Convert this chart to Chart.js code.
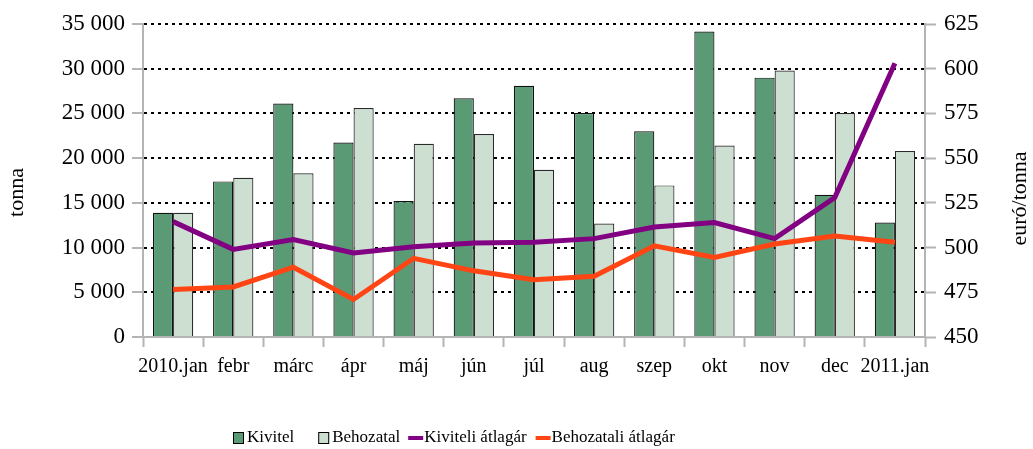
<!DOCTYPE html>
<html>
<head>
<meta charset="utf-8">
<script src="https://cdn.jsdelivr.net/npm/chart.js@4.4.1/dist/chart.umd.min.js"></script>
<style>
html,body{margin:0;padding:0;background:#fff;}
#wrap{width:1033px;height:449px;position:relative;}
</style>
</head>
<body>
<div id="wrap"><canvas id="c" width="1033" height="449"></canvas></div>
<script>
const categories = ['2010.jan','febr','márc','ápr','máj','jún','júl','aug','szep','okt','nov','dec','2011.jan'];
const kivitel = [13900,17400,26100,21750,15200,26700,28100,25050,23000,34150,29000,15900,12800];
const behozatal = [13900,17800,18300,25600,21600,22700,18700,12700,16950,21400,29800,25050,20800];
const kiviteliAr = [514.5,499,504.5,497,500.5,502.5,503,505,511.5,514,505,528,603];
const behozataliAr = [476.5,478,489,471,494,487,482,484,501,494.5,502,506.5,503];
const leftTicks = [0,5000,10000,15000,20000,25000,30000,35000];
const rightTicks = [450,475,500,525,550,575,600,625];
const leftTitle = 'tonna';
const rightTitle = 'euró/tonna';

const FONT = "'Liberation Serif', 'Times New Roman', serif";
const AXIS_GRAY = '#b4b4b4';
const LEGEND_GAPS = [24, 8, 9, 0];

function fmt(v){ return String(v).replace(/\B(?=(\d{3})+(?!\d))/g, ' '); }

const legendPlugin = {
  id: 'customLegend',
  afterDraw(chart){
    const ctx = chart.ctx;
    const area = chart.chartArea;
    ctx.save();
    ctx.font = '22px ' + FONT;
    ctx.fillStyle = '#000';
    ctx.textAlign = 'center';
    ctx.textBaseline = 'middle';
    const cy = (area.top + area.bottom) / 2 + 12;
    ctx.save(); ctx.translate(17, cy); ctx.rotate(-Math.PI/2); ctx.fillText(leftTitle, 0, 0); ctx.restore();
    ctx.save(); ctx.translate(1020, cy + 6); ctx.rotate(-Math.PI/2); ctx.fillText(rightTitle, 0, 0); ctx.restore();

    const y = 438;
    let x = 233;
    ctx.font = '17px ' + FONT;
    ctx.textBaseline = 'middle';
    ctx.textAlign = 'left';
    chart.data.datasets.forEach((ds, i) => {
      if (ds.type === 'line') {
        ctx.strokeStyle = ds.borderColor;
        ctx.lineWidth = 4;
        ctx.beginPath();
        ctx.moveTo(x, y);
        ctx.lineTo(x + 15, y);
        ctx.stroke();
        ctx.fillStyle = '#000';
        ctx.fillText(ds.label, x + 16, y);
        x += 16 + ctx.measureText(ds.label).width + LEGEND_GAPS[i];
      } else {
        ctx.fillStyle = ds.backgroundColor;
        ctx.fillRect(x, y - 5.5, 11, 11);
        ctx.strokeStyle = '#000';
        ctx.lineWidth = 1;
        ctx.strokeRect(x + 0.5, y - 5.5, 10, 11);
        ctx.fillStyle = '#000';
        ctx.fillText(ds.label, x + 14, y);
        x += 14 + ctx.measureText(ds.label).width + LEGEND_GAPS[i];
      }
    });
    ctx.restore();
  }
};

new Chart(document.getElementById('c'), {
  type: 'bar',
  data: {
    labels: categories,
    datasets: [
      { type:'bar', label:'Kivitel', data:kivitel, backgroundColor:'#5a9a74', borderColor:'#111', borderWidth:1.2, borderSkipped:'bottom', yAxisID:'y', order:2, categoryPercentage:0.67, barPercentage:1.0 },
      { type:'bar', label:'Behozatal', data:behozatal, backgroundColor:'#ccdfd1', borderColor:'#2a2a2a', borderWidth:1.2, borderSkipped:'bottom', yAxisID:'y', order:2, categoryPercentage:0.67, barPercentage:1.0 },
      { type:'line', label:'Kiviteli átlagár', data:kiviteliAr, borderColor:'#820082', backgroundColor:'#820082', borderWidth:5, pointRadius:0, tension:0, yAxisID:'y1', order:0 },
      { type:'line', label:'Behozatali átlagár', data:behozataliAr, borderColor:'#ff4513', backgroundColor:'#ff4513', borderWidth:5, pointRadius:0, tension:0, yAxisID:'y1', order:1 }
    ]
  },
  options: {
    responsive:false,
    animation:false,
    devicePixelRatio:1,
    layout:{ padding:{ top:24, left:0, right:0, bottom:0 } },
    plugins:{ legend:{ display:false }, tooltip:{ enabled:false } },
    scales:{
      x:{
        offset:true,
        grid:{ offset:true, drawOnChartArea:false, drawTicks:true, tickLength:10, tickColor:AXIS_GRAY, tickWidth:2 },
        border:{ color:AXIS_GRAY, width:2 },
        ticks:{ font:{ family:FONT, size:20 }, color:'#000', padding:8, maxRotation:0, autoSkip:false },
        afterFit(s){ s.height = 112; }
      },
      y:{
        position:'left', min:0, max:35000,
        afterBuildTicks(s){ s.ticks = leftTicks.map(v => ({value:v})); },
        grid:{ color: c => (c.tick && c.tick.value === 0) ? 'rgba(0,0,0,0)' : '#000', lineWidth:2, tickColor:AXIS_GRAY, tickLength:11, tickWidth:2, tickBorderDash:[] },
        border:{ color:AXIS_GRAY, width:2, dash:[3,4] },
        ticks:{ font:{ family:FONT, size:23 }, color:'#000', padding:7, callback: v => fmt(v) },
        afterFit(s){ s.width = 143; }
      },
      y1:{
        position:'right', min:450, max:625,
        afterBuildTicks(s){ s.ticks = rightTicks.map(v => ({value:v})); },
        grid:{ drawOnChartArea:false, tickColor:AXIS_GRAY, tickLength:11, tickWidth:2 },
        border:{ color:AXIS_GRAY, width:2 },
        ticks:{ font:{ family:FONT, size:23 }, color:'#000', padding:8 },
        afterFit(s){ s.width = 108; }
      }
    }
  },
  plugins:[legendPlugin]
});
</script>
</body>
</html>
